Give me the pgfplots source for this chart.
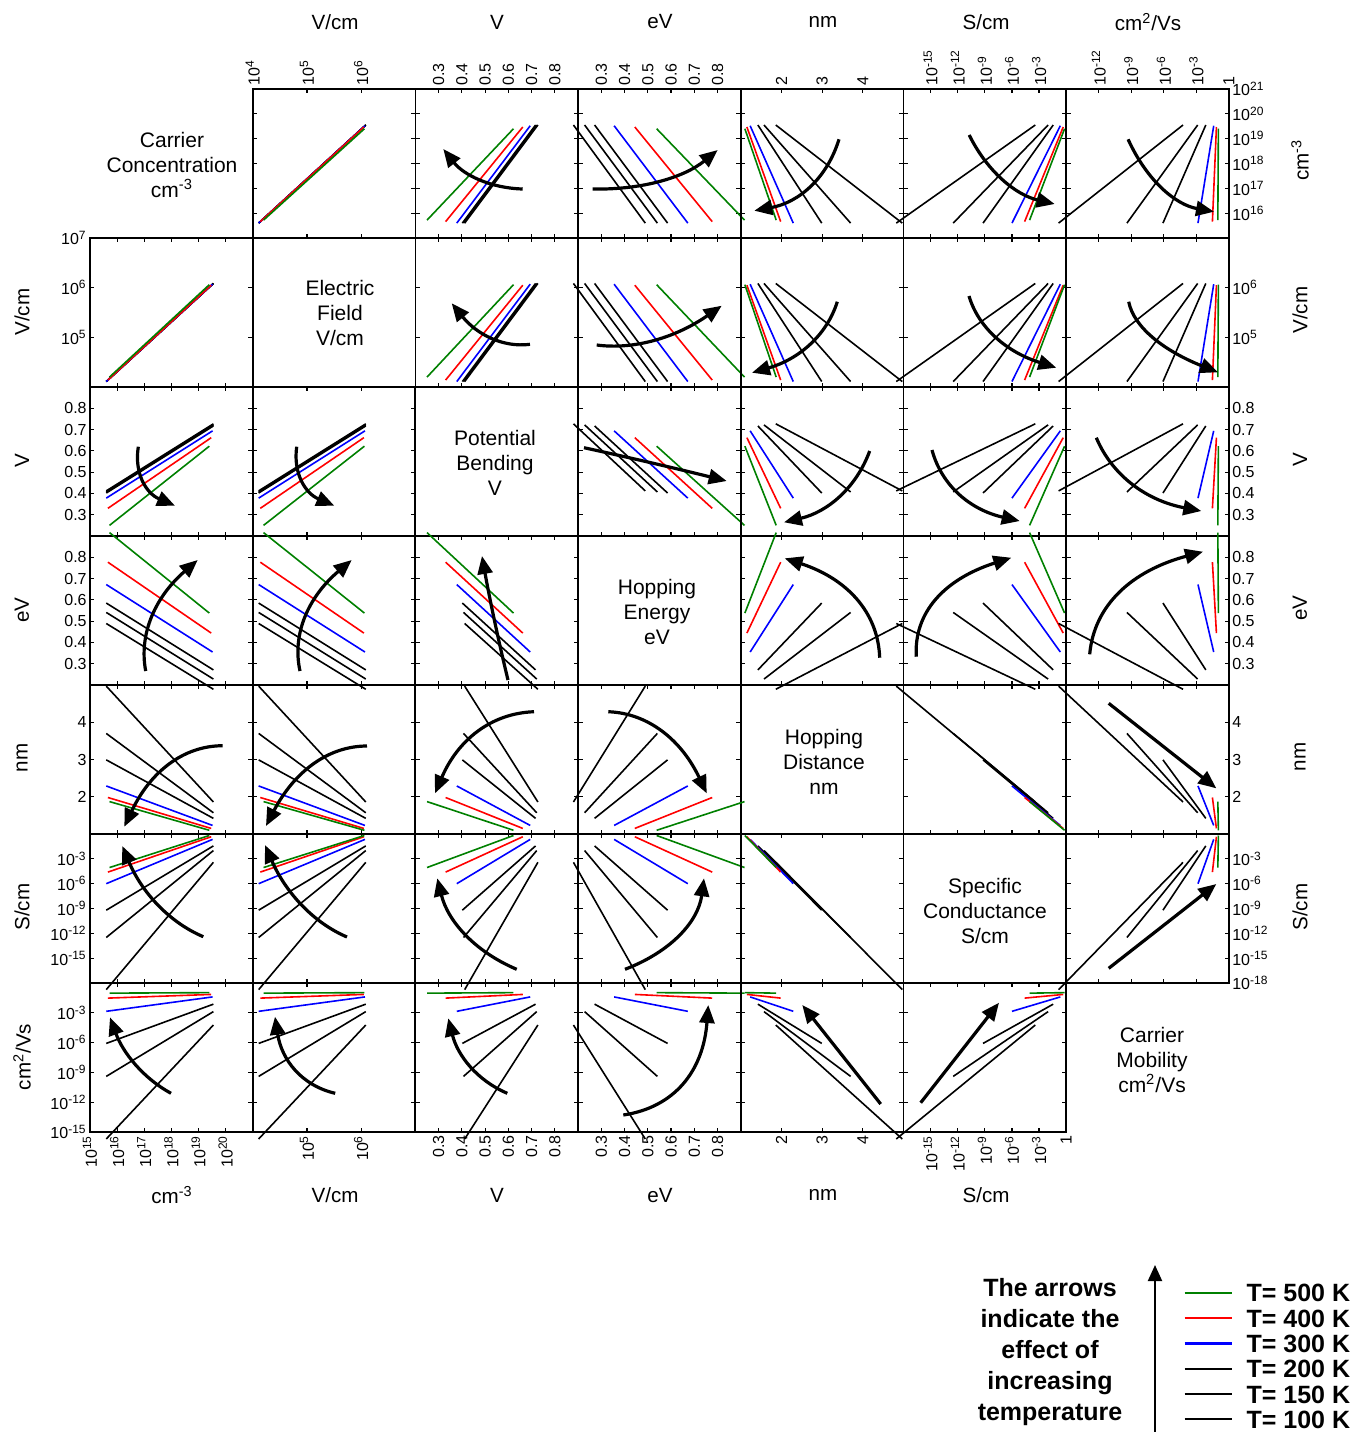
\documentclass[border=0pt]{standalone}
\usepackage{fontspec}
\setmainfont{Liberation Sans}
\usepackage{pgfplots}
\usepackage{pgfplotstable}
\pgfplotsset{compat=1.18}
\usetikzlibrary{arrows.meta}

\definecolor{cG}{RGB}{0,128,0}
\definecolor{cR}{RGB}{255,0,0}
\definecolor{cB}{RGB}{0,0,255}

\newcommand\tickfont{\fontsize{8}{9.5}\selectfont}
\newcommand\ttlfont{\fontsize{10.5}{12.5}\selectfont}
\newcommand\ex[1]{10\textsuperscript{#1}}

% columns: log10 n (cm^-3), log10 E (V/cm), V (V), W (eV), r (nm), log10 S (S/cm), log10 mu (cm2/Vs)
\pgfplotstableread{
n E V W r S m
15.60 4.110 0.412 0.489 4.97 -18.80 -15.70
19.55 6.085 0.727 0.180 1.86 -3.42 -4.23
}\tA % T = 100 K
\pgfplotstableread{
n E V W r S m
15.60 4.110 0.407 0.541 3.70 -12.50 -9.40
19.55 6.085 0.722 0.228 1.57 -2.00 -2.88
}\tB % T = 150 K
\pgfplotstableread{
n E V W r S m
15.60 4.110 0.402 0.585 2.99 -9.20 -6.08
19.55 6.085 0.717 0.271 1.42 -1.44 -2.13
}\tC % T = 200 K
\pgfplotstableread{
n E V W r S m
15.60 4.110 0.378 0.672 2.29 -6.00 -2.85
19.52 6.070 0.694 0.355 1.23 -0.65 -1.40
}\tD % T = 300 K
\pgfplotstableread{
n E V W r S m
15.66 4.140 0.330 0.777 1.98 -4.60 -1.52
19.47 6.050 0.662 0.444 1.15 -0.33 -1.15
}\tE % T = 400 K
\pgfplotstableread{
n E V W r S m
15.72 4.200 0.250 0.916 1.87 -4.05 -1.02
19.40 6.060 0.622 0.538 1.10 -0.18 -0.97
}\tF % T = 500 K

\newcommand\plotall[2]{%
 \addplot[black,line width=0.8pt] table[x index=#1,y index=#2]{\tA};
 \addplot[black,line width=0.8pt] table[x index=#1,y index=#2]{\tB};
 \addplot[black,line width=0.8pt] table[x index=#1,y index=#2]{\tC};
 \addplot[cB,line width=0.8pt] table[x index=#1,y index=#2]{\tD};
 \addplot[cR,line width=0.8pt] table[x index=#1,y index=#2]{\tE};
 \addplot[cG,line width=0.8pt] table[x index=#1,y index=#2]{\tF};}

\tikzset{arrw/.style={line width=1.6pt,-{Triangle[length=9pt,width=7.5pt]}}}

% arrow: tail (A), point at mid-curve (M), head (B), in reference pixels; quadratic arc
\newcommand\arr[6]{\draw[arrw]
 (rel axis cs:{(#1-\cl)/162.7},{(\ct+149-#2)/149}) .. controls
 (rel axis cs:{((4*#3-#5)/3-\cl)/162.7},{(\ct+149-(4*#4-#6)/3)/149}) and
 (rel axis cs:{((4*#3-#1)/3-\cl)/162.7},{(\ct+149-(4*#4-#2)/3)/149}) ..
 (rel axis cs:{(#5-\cl)/162.7},{(\ct+149-#6)/149});}

\pgfplotsset{
 cellax/.style={anchor=north west, width=81.35pt, height=74.5pt, scale only axis, clip=false,
   axis line style={line width=0.9pt}, every tick/.style={black,line width=0.6pt},
   major tick length=2.2pt, tick align=inside,
   xticklabels=\empty, yticklabels=\empty, ticklabel style={font=\tickfont, inner sep=1.5pt}},
 legimg/.style={legend image code/.code={\draw[##1,line width=1.1pt] (0pt,0pt)--(23.5pt,0pt);}},
 xv0/.style={xmin=15,xmax=21,xtick={15,16,17,18,19,20,21}},
 xv1/.style={xmin=4,xmax=7,xtick={4,5,6,7}},
 xv2/.style={xmin=0.2,xmax=0.9,xtick={0.3,0.4,0.5,0.6,0.7,0.8}},
 xv3/.style={xmin=0.2,xmax=0.9,xtick={0.3,0.4,0.5,0.6,0.7,0.8}},
 xv4/.style={xmin=1,xmax=5,xtick={1,2,3,4,5}},
 xv5/.style={xmin=-18,xmax=0,xtick={-18,-15,-12,-9,-6,-3,0}},
 xv6/.style={xmin=-15,xmax=0,xtick={-15,-12,-9,-6,-3,0}},
 yv0/.style={ymin=15,ymax=21,ytick={15,16,17,18,19,20,21}},
 yv1/.style={ymin=4,ymax=7,ytick={4,5,6,7}},
 yv2/.style={ymin=0.2,ymax=0.9,ytick={0.3,0.4,0.5,0.6,0.7,0.8}},
 yv3/.style={ymin=0.2,ymax=0.9,ytick={0.3,0.4,0.5,0.6,0.7,0.8}},
 yv4/.style={ymin=1,ymax=5,ytick={1,2,3,4,5}},
 yv5/.style={ymin=-18,ymax=0,ytick={-18,-15,-12,-9,-6,-3,0}},
 yv6/.style={ymin=-15,ymax=0,ytick={-15,-12,-9,-6,-3,0}},
 XU/.style={xticklabel pos=upper, xticklabel style={rotate=90,anchor=west}},
 XD/.style={xticklabel pos=lower, xticklabel style={rotate=90,anchor=east}},
 YL/.style={yticklabel pos=left},
 YR/.style={yticklabel pos=right},
 T1/.style={XU,xtick={4,5,6},xticklabels={\ex{4},\ex{5},\ex{6}}},
 T2/.style={XU,xtick={0.3,0.4,0.5,0.6,0.7,0.8},xticklabels={0.3,0.4,0.5,0.6,0.7,0.8}},
 T4/.style={XU,xtick={2,3,4},xticklabels={2,3,4}},
 T5/.style={XU,xtick={-15,-12,-9,-6,-3},xticklabels={\ex{-15},\ex{-12},\ex{-9},\ex{-6},\ex{-3}}},
 T6/.style={XU,xtick={-12,-9,-6,-3,0},xticklabels={\ex{-12},\ex{-9},\ex{-6},\ex{-3},1}},
 B0/.style={XD,xtick={15,16,17,18,19,20},xticklabels={\ex{15},\ex{16},\ex{17},\ex{18},\ex{19},\ex{20}}},
 B1/.style={XD,xtick={5,6},xticklabels={\ex{5},\ex{6}}},
 B2/.style={XD,xtick={0.3,0.4,0.5,0.6,0.7,0.8},xticklabels={0.3,0.4,0.5,0.6,0.7,0.8}},
 B4/.style={XD,xtick={2,3,4},xticklabels={2,3,4}},
 B5/.style={XD,xtick={-15,-12,-9,-6,-3,0},xticklabels={\ex{-15},\ex{-12},\ex{-9},\ex{-6},\ex{-3},1}},
 L1/.style={YL,ytick={5,6,7},yticklabels={\ex{5},\ex{6},\ex{7}}},
 L2/.style={YL,ytick={0.3,0.4,0.5,0.6,0.7,0.8},yticklabels={0.3,0.4,0.5,0.6,0.7,0.8}},
 L4/.style={YL,ytick={2,3,4},yticklabels={2,3,4}},
 L5/.style={YL,ytick={-15,-12,-9,-6,-3},yticklabels={\ex{-15},\ex{-12},\ex{-9},\ex{-6},\ex{-3}}},
 R0/.style={YR,ytick={16,17,18,19,20,21},yticklabels={\ex{16},\ex{17},\ex{18},\ex{19},\ex{20},\ex{21}}},
 R1/.style={YR,ytick={5,6},yticklabels={\ex{5},\ex{6}}},
 R2/.style={YR,ytick={0.3,0.4,0.5,0.6,0.7,0.8},yticklabels={0.3,0.4,0.5,0.6,0.7,0.8}},
 R4/.style={YR,ytick={2,3,4},yticklabels={2,3,4}},
 R5/.style={YR,ytick={-18,-15,-12,-9,-6,-3},yticklabels={\ex{-18},\ex{-15},\ex{-12},\ex{-9},\ex{-6},\ex{-3}}},
 LEG/.style={legend entries={{T= 100 K},{T= 150 K},{T= 200 K},{T= 300 K},{T= 400 K},{T= 500 K}},
  reverse legend, legend cell align=left, legimg,
  legend style={at={(1.718,-1.016)}, anchor=north west, draw=none, fill=none, inner sep=0pt,
    font=\bfseries\fontsize{12.5}{13}\selectfont, row sep=3.65pt, column sep=7pt,
    nodes={inner sep=0pt, text height=9pt, text depth=0pt}}},
}

% #1 row (y variable), #2 column (x variable), #3 options, #4 arrow
\newcommand\cell[4]{%
 \pgfmathsetmacro\cl{90+#2*162.7}%
 \pgfmathsetmacro\ct{89+#1*149}%
 \begin{axis}[cellax, at={({\cl*0.5pt},{-\ct*0.5pt})}, xv#2, yv#1, #3]
 \plotall{#2}{#1}
 #4
 \end{axis}}

\begin{document}
\begin{tikzpicture}[x=0.5pt,y=-0.5pt]
\useasboundingbox (0,0) rectangle (1370,1432);

% row 0: carrier concentration
\cell{0}{1}{T1}{}
\cell{0}{2}{T2}{\arr{522.7}{189}{478.3}{178.3}{443.3}{149}}
\cell{0}{3}{T2}{\arr{592.7}{189}{661.7}{180}{717.7}{150}}
\cell{0}{4}{T4}{\arr{839}{139.3}{808.7}{186.7}{754.3}{210.7}}
\cell{0}{5}{T5}{\arr{969.2}{135}{1004.3}{180}{1054.7}{204}}
\cell{0}{6}{T6,R0}{\arr{1128.1}{139.3}{1163.6}{188.3}{1214}{211.7}}
% row 1: electric field
\cell{1}{0}{L1}{}
\cell{1}{2}{}{\arr{530}{344.3}{490}{336.7}{451.7}{303.3}}
\cell{1}{3}{}{\arr{596.7}{345}{656.7}{339}{721.7}{305.7}}
\cell{1}{4}{}{\arr{837.3}{301.7}{808}{345}{752}{372.7}}
\cell{1}{5}{}{\arr{969}{296}{998}{338.3}{1056.3}{367.7}}
\cell{1}{6}{R1}{\arr{1128.7}{301.7}{1154.7}{338.3}{1218}{372.3}}
% row 2: potential bending
\cell{2}{0}{L2}{\arr{138.3}{446.7}{144.3}{481.7}{175}{505.7}}
\cell{2}{1}{}{\arr{296.7}{446.7}{303.3}{481.7}{334.3}{505.7}}
\cell{2}{3}{}{\arr{584}{447.7}{653.3}{463.3}{726.7}{481}}
\cell{2}{4}{}{\arr{869.7}{451}{838}{496.7}{784}{522.3}}
\cell{2}{5}{}{\arr{932}{450}{961.3}{495}{1019.7}{521}}
\cell{2}{6}{R2}{\arr{1096.3}{437.7}{1134.7}{485}{1201.3}{511}}
% row 3: hopping energy
\cell{3}{0}{L2}{\arr{145.7}{671}{153.3}{615}{197.7}{560}}
\cell{3}{1}{}{\arr{300}{671}{306.7}{615}{351.7}{560}}
\cell{3}{2}{}{\arr{508}{680}{494}{618}{482}{556}}
\cell{3}{4}{}{\arr{879.7}{657.7}{854.7}{598.3}{784.7}{558.3}}
\cell{3}{5}{}{\arr{916.3}{656.7}{938}{598.3}{1011.3}{557.7}}
\cell{3}{6}{R2}{\arr{1089.7}{654.3}{1121.3}{591.7}{1203}{551.7}}
% row 4: hopping distance
\cell{4}{0}{L4}{\arr{222.7}{745.7}{168}{766}{124.3}{826.7}}
\cell{4}{1}{}{\arr{367}{746}{312}{766}{266}{826}}
\cell{4}{2}{}{\arr{534}{711.7}{476.7}{733.3}{435}{793.3}}
\cell{4}{3}{}{\arr{608.3}{711.7}{663.3}{733.3}{706.7}{793.3}}
\cell{4}{5}{}{}
\cell{4}{6}{R4}{\arr{1108.7}{703.3}{1162.5}{745.8}{1216.3}{788.3}}
% row 5: specific conductance
\cell{5}{0}{L5}{\arr{203.3}{936.7}{157}{903}{122.3}{846}}
\cell{5}{1}{}{\arr{347}{937}{300.7}{903}{265}{845}}
\cell{5}{2}{}{\arr{516.7}{969.3}{465}{933}{437.3}{878.3}}
\cell{5}{3}{}{\arr{625}{969.3}{680}{933}{704}{878.3}}
\cell{5}{4}{}{}
\cell{5}{6}{R5}{\arr{1108.7}{968.3}{1162.5}{926.2}{1216.3}{884}}
% row 6: carrier mobility
\cell{6}{0}{L5,B0}{\arr{171}{1093.3}{135}{1063}{110}{1017.3}}
\cell{6}{1}{B1}{\arr{335.2}{1093.3}{295}{1068.3}{275}{1016.7}}
\cell{6}{2}{B2}{\arr{507.3}{1093.3}{470}{1065}{448.3}{1018.3}}
\cell{6}{3}{B2}{\arr{623.3}{1115}{683.3}{1081.7}{708.3}{1005}}
\cell{6}{4}{B4}{\arr{880.7}{1104}{841.5}{1054.5}{802.3}{1005}}
\cell{6}{5}{B5,LEG}{\arr{920.7}{1102.7}{959.9}{1052.7}{999}{1002.7}}

% diagonal titles
\tikzset{ttl/.style={font=\ttlfont, align=center}}
\node[ttl] at (172,165) {Carrier\\Concentration\\cm\textsuperscript{-3}};
\node[ttl] at (340,313) {Electric\\Field\\V/cm};
\node[ttl] at (495,463) {Potential\\Bending\\V};
\node[ttl] at (657,612) {Hopping\\Energy\\eV};
\node[ttl] at (824,762) {Hopping\\Distance\\nm};
\node[ttl] at (985,911) {Specific\\Conductance\\S/cm};
\node[ttl] at (1152,1060) {Carrier\\Mobility\\cm\textsuperscript{2}/Vs};

% unit labels
\tikzset{unit/.style={font=\fontsize{10.3}{12}\selectfont}}
\foreach \x/\t in {335/{V/cm},497/V,660/eV,823/nm,986/{S/cm},1148/{cm\textsuperscript{2}/Vs}}
  \node[unit] at (\x,22) {\t};
\foreach \x/\t in {172/{cm\textsuperscript{-3}},335/{V/cm},497/V,660/eV,823/nm,986/{S/cm}}
  \node[unit] at (\x,1195) {\t};
\foreach \y/\t in {312/{V/cm},461/V,610/eV,758/nm,907/{S/cm},1057/{cm\textsuperscript{2}/Vs}}
  \node[unit,rotate=90] at (22,\y) {\t};
\foreach \y/\t in {160/{cm\textsuperscript{-3}},310/{V/cm},460/V,608/eV,757/nm,907/{S/cm}}
  \node[unit,rotate=90] at (1300,\y) {\t};

% legend note
\node[font=\bfseries\fontsize{12.5}{15.5}\selectfont, align=center] at (1050,1352)
  {The arrows\\indicate the\\effect of\\increasing\\temperature};
\draw[line width=1pt,-{Triangle[length=8pt,width=7pt]}] (1155,1432) -- (1155,1265);
\end{tikzpicture}
\end{document}
